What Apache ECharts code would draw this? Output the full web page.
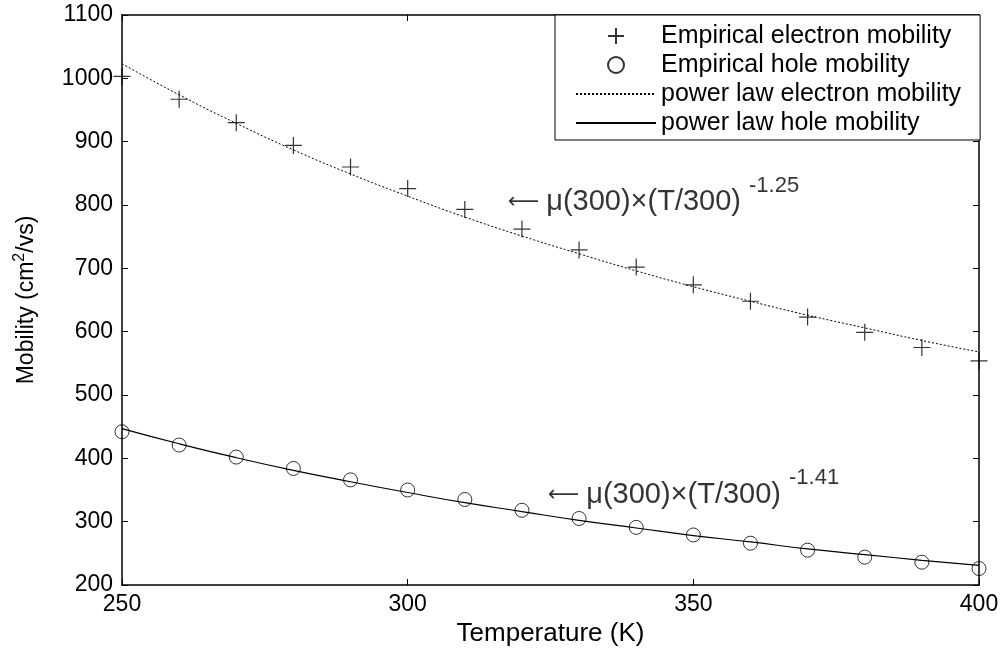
<!DOCTYPE html>
<html>
<head>
<meta charset="utf-8">
<script src="https://cdn.jsdelivr.net/npm/echarts@6/dist/echarts.min.js"></script>
<style>
html,body{margin:0;padding:0;background:#fff;}
#chart{width:1004px;height:650px;}
</style>
</head>
<body>
<div id="chart"></div>
<script>
// ---- data ----
const temps = [250, 260, 270, 280, 290, 300, 310, 320, 330, 340, 350, 360, 370, 380, 390, 400];
const electronEmpirical = [1003, 967, 930, 894, 860, 826, 793, 762, 729, 702, 674, 648, 623, 599, 575, 554];
const holeEmpirical = [442, 421, 402, 384, 366, 350, 335, 318, 305, 291, 279, 266, 255, 244, 236, 226];
const electronPowerLaw = [1023, 974, 929, 887, 849, 814, 781, 751, 723, 696, 671, 648, 626, 606, 586, 568];
const holePowerLaw = [447, 423, 401, 381, 363, 346, 330, 316, 302, 290, 278, 268, 257, 248, 239, 231];
const xTicks = [250, 300, 350, 400];
const yTicks = [200, 300, 400, 500, 600, 700, 800, 900, 1000, 1100];
const seriesNames = ['Empirical electron mobility', 'Empirical hole mobility', 'power law electron mobility', 'power law hole mobility'];
const annotationElectron = { at: [317.5, 804], text: 'μ(300)×(T/300)', exp: '-1.25' };
const annotationHole = { at: [324.5, 342], text: 'μ(300)×(T/300)', exp: '-1.41' };

const FONT = '"Liberation Sans", Arial, Helvetica, sans-serif';
const pair = (xs, ys) => xs.map((x, i) => [x, ys[i]]);
const PLUS = 'path://M0,8L16,8M8,0L8,16';

const chart = echarts.init(document.getElementById('chart'), null, { renderer: 'canvas' });

function annot(a) {
  return {
    type: 'scatter', xAxisIndex: 0, yAxisIndex: 0, silent: true,
    symbol: 'circle', symbolSize: 0, legendHoverLink: false,
    data: [a.at], z: 10,
    label: {
      show: true, position: 'right', distance: 0,
      formatter: '{a|⟵}{m|' + a.text + '}{s|' + a.exp + '}',
      rich: {
        a: { fontFamily: '"DejaVu Sans", sans-serif', fontSize: 22, color: '#000', padding: [0, 7, 0, 0] },
        m: { fontFamily: FONT, fontSize: 29, color: '#000' },
        s: { fontFamily: FONT, fontSize: 22, color: '#000', padding: [0, 0, 34, 8] }
      }
    }
  };
}

const axisCommon = {
  type: 'value',
  axisLine: { show: true, onZero: false, lineStyle: { color: '#000', width: 1.5 } },
  axisTick: { show: true, inside: true, length: 6, lineStyle: { color: '#000', width: 1 } },
  splitLine: { show: false },
  axisLabel: { color: '#000', fontFamily: FONT, fontSize: 23, formatter: v => String(v) }
};

const legendLineHidden = { color: 'transparent', borderColor: 'transparent', borderWidth: 0, opacity: 0 };

chart.setOption({
  animation: false,
  backgroundColor: '#fff',
  grid: { left: 122, right: 25, top: 15, bottom: 65, containLabel: false, outerBoundsMode: 'none' },
  xAxis: [
    Object.assign({}, axisCommon, {
      position: 'bottom', min: xTicks[0], max: xTicks[xTicks.length - 1], interval: 50,
      name: 'Temperature (K)', nameLocation: 'middle', nameGap: 35,
      nameTextStyle: { color: '#000', fontFamily: FONT, fontSize: 26 },
      axisLabel: Object.assign({}, axisCommon.axisLabel, { margin: 8 })
    }),
    Object.assign({}, axisCommon, {
      position: 'top', min: xTicks[0], max: xTicks[xTicks.length - 1], interval: 50,
      axisLabel: { show: false }
    })
  ],
  yAxis: [
    Object.assign({}, axisCommon, {
      position: 'left', min: yTicks[0], max: yTicks[yTicks.length - 1], interval: 100,
      name: '{n|Mobility (cm}{p|2}{n|/vs)}', nameLocation: 'middle', nameGap: 80, nameRotate: 90,
      nameTextStyle: {
        color: '#000', fontFamily: FONT, fontSize: 23,
        rich: {
          n: { fontFamily: FONT, fontSize: 23, color: '#000' },
          p: { fontFamily: FONT, fontSize: 16, color: '#000', padding: [0, 0, 14, 0] }
        }
      },
      axisLabel: Object.assign({}, axisCommon.axisLabel, { margin: 9 })
    }),
    Object.assign({}, axisCommon, {
      position: 'right', min: yTicks[0], max: yTicks[yTicks.length - 1], interval: 100,
      axisLabel: { show: false }
    })
  ],
  legend: {
    orient: 'vertical', left: 555, top: 15,
    padding: [8, 19, 4, 20],
    itemGap: 3, itemWidth: 80, itemHeight: 16,
    backgroundColor: '#fff',
    borderColor: '#000', borderWidth: 1,
    textStyle: { color: '#000', fontFamily: FONT, fontSize: 25, lineHeight: 26 },
    selectedMode: false,
    data: [
      { name: seriesNames[0], icon: PLUS },
      { name: seriesNames[1], icon: 'circle' },
      { name: seriesNames[2], itemStyle: legendLineHidden },
      { name: seriesNames[3], itemStyle: legendLineHidden }
    ]
  },
  series: [
    {
      name: seriesNames[2], type: 'line', data: pair(temps, electronPowerLaw),
      symbol: 'none', smooth: true, z: 2,
      lineStyle: { color: '#000', width: 1, type: [2, 2] },
      itemStyle: { color: '#000' }
    },
    {
      name: seriesNames[3], type: 'line', data: pair(temps, holePowerLaw),
      symbol: 'none', smooth: true, z: 2,
      lineStyle: { color: '#000', width: 1.2, type: 'solid' },
      itemStyle: { color: '#000' }
    },
    {
      name: seriesNames[0], type: 'scatter', data: pair(temps, electronEmpirical),
      symbol: PLUS, symbolSize: 17, z: 3,
      itemStyle: { color: 'none', borderColor: '#000', borderWidth: 1.2 }
    },
    {
      name: seriesNames[1], type: 'scatter', data: pair(temps, holeEmpirical),
      symbol: 'circle', symbolSize: 14, z: 3,
      itemStyle: { color: 'transparent', borderColor: '#000', borderWidth: 1 }
    },
    annot(annotationElectron),
    annot(annotationHole)
  ]
});
</script>
</body>
</html>
